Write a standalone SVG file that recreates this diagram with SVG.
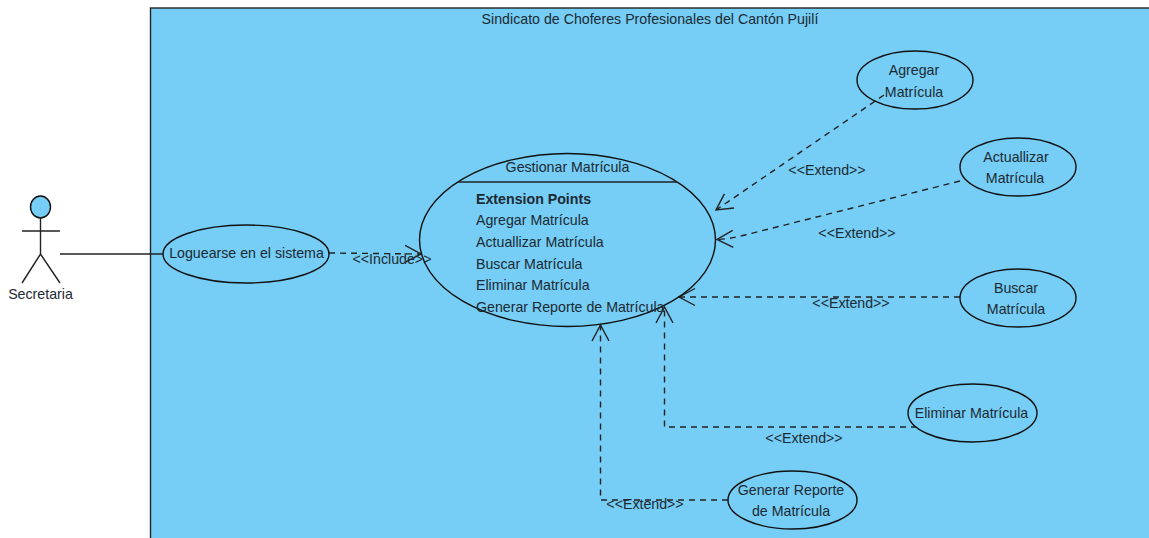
<svg xmlns="http://www.w3.org/2000/svg" width="1149" height="538" viewBox="0 0 1149 538">
<style>
text{font-family:"Liberation Sans",Arial,sans-serif;font-size:14.2px;fill:#1c2a33;text-anchor:middle}
.uc{fill:#76cdf5;stroke:#111;stroke-width:1.4}
.line{fill:none;stroke:#222;stroke-width:1.4}
.dash{fill:none;stroke:#222;stroke-width:1.4;stroke-dasharray:6 5;marker-end:url(#open)}
.left{text-anchor:start}
</style>
<defs>
<marker id="open" markerUnits="userSpaceOnUse" markerWidth="20" markerHeight="20" refX="17" refY="10" orient="auto" overflow="visible">
<path d="M1 1.5L17 10L1 18.5" fill="none" stroke="#222" stroke-width="1.4"/>
</marker>
</defs>
<rect width="1149" height="538" fill="#fff"/>
<g id="system">
<rect x="150.500" y="8" width="1010" height="540" fill="#76cdf5" stroke="#222" stroke-width="1.4"/>
<text x="650" y="24">Sindicato de Choferes Profesionales del Cantón Pujilí</text>
</g>
<g id="connectors">
<path class="line" d="M60 254H163"/>
<path class="dash" d="M329 253L421 254"/>
<path class="dash" d="M884 95L716 210"/>
<path class="dash" d="M960 181L745 235Q730 239 717 239.500"/>
<path class="dash" d="M960 297H679"/>
<path class="dash" d="M917 427H664.500V307"/>
<path class="dash" d="M728 500H600.500V325"/>
<text x="392" y="264">&lt;&lt;Include&gt;&gt;</text>
<text x="827" y="175">&lt;&lt;Extend&gt;&gt;</text>
<text x="857" y="238">&lt;&lt;Extend&gt;&gt;</text>
<text x="851" y="308">&lt;&lt;Extend&gt;&gt;</text>
<text x="804" y="443">&lt;&lt;Extend&gt;&gt;</text>
<text x="645" y="509">&lt;&lt;Extend&gt;&gt;</text>
</g>
<g id="actor-secretaria">
<ellipse cx="40.500" cy="207" rx="10" ry="11" class="uc"/>
<path class="line" d="M40.500 218V254M22 231H60M22 283L40.500 254L60 283"/>
<text x="40.500" y="299">Secretaria</text>
</g>
<g id="uc-loguearse">
<ellipse cx="246" cy="254" rx="83" ry="29" class="uc"/>
<text x="246.500" y="258">Loguearse en el sistema</text>
</g>
<g id="uc-gestionar">
<ellipse cx="567.500" cy="240" rx="148" ry="86.500" class="uc" style="fill:none"/>
<path class="line" d="M458 182H677"/>
<text x="567.500" y="172">Gestionar Matrícula</text>
<text class="left" x="476" y="204" style="font-weight:bold">Extension Points</text>
<text class="left" x="476" y="225">Agregar Matrícula</text>
<text class="left" x="476" y="247">Actuallizar Matrícula</text>
<text class="left" x="476" y="269">Buscar Matrícula</text>
<text class="left" x="476" y="290">Eliminar Matrícula</text>
<text class="left" x="476" y="312">Generar Reporte de Matrícula</text>
</g>
<g id="uc-agregar">
<ellipse cx="915" cy="80" rx="58" ry="29" class="uc" style="fill:none"/>
<text x="914" y="75">Agregar</text>
<text x="914" y="97">Matrícula</text>
</g>
<g id="uc-actualizar">
<ellipse cx="1018" cy="167" rx="58" ry="29" class="uc"/>
<text x="1016" y="162">Actuallizar</text>
<text x="1015" y="183">Matrícula</text>
</g>
<g id="uc-buscar">
<ellipse cx="1018" cy="298" rx="58" ry="29" class="uc"/>
<text x="1016" y="293">Buscar</text>
<text x="1016" y="314">Matrícula</text>
</g>
<g id="uc-eliminar">
<ellipse cx="972.500" cy="413" rx="64.500" ry="29" class="uc"/>
<text x="971.500" y="418">Eliminar Matrícula</text>
</g>
<g id="uc-generar">
<ellipse cx="792.500" cy="500" rx="64.500" ry="29" class="uc"/>
<text x="791" y="495">Generar Reporte</text>
<text x="791" y="516">de Matrícula</text>
</g>
</svg>
